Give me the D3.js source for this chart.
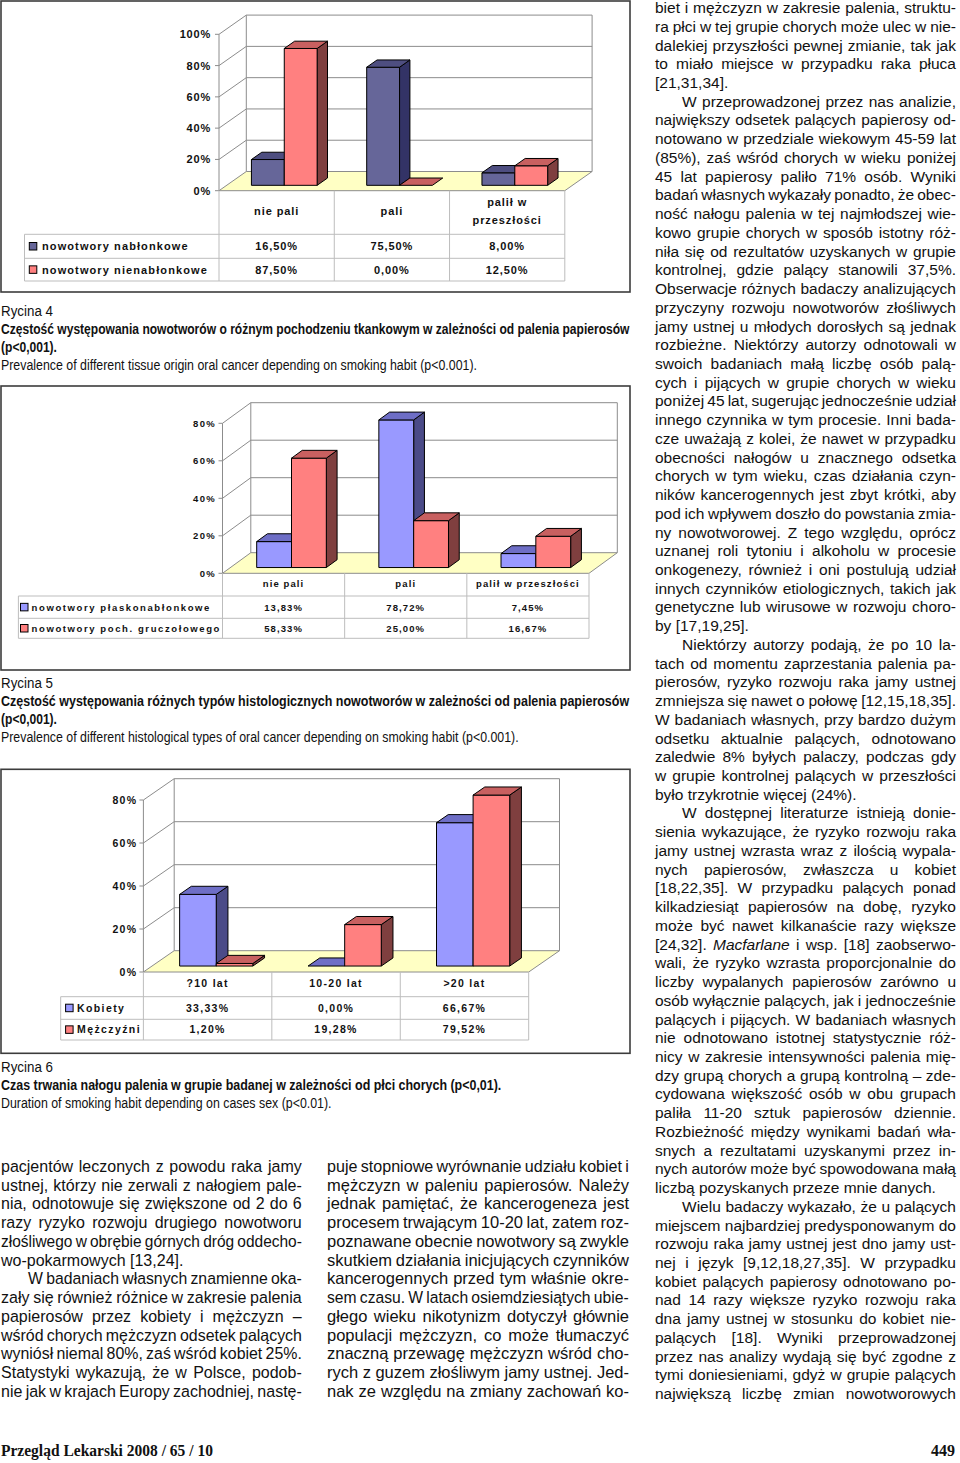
<!DOCTYPE html>
<html><head><meta charset="utf-8">
<script src="https://cdn.jsdelivr.net/npm/d3@7"></script>
<style>body{margin:0;background:#fff}svg{display:block}</style>
</head><body>
<svg id="page" width="960" height="1463"></svg>
<script>
// ---------------- DATA ----------------
const fig4Categories = ["nie pali", "pali", "palił w przeszłości"];
const fig4CategoryLines = [["nie pali"], ["pali"], ["palił w", "przeszłości"]];
const fig4Series = ["nowotwory nabłonkowe", "nowotwory nienabłonkowe"];
const fig4Epithelial = [16.5, 75.5, 8.0];
const fig4NonEpithelial = [87.5, 0.0, 12.5];
const fig4Ticks = [0, 20, 40, 60, 80, 100];

const fig5Categories = ["nie pali", "pali", "palił w przeszłości"];
const fig5CategoryLines = [["nie pali"], ["pali"], ["palił w przeszłości"]];
const fig5Series = ["nowotwory płaskonabłonkowe", "nowotwory poch. gruczołowego"];
const fig5Squamous = [13.83, 78.72, 7.45];
const fig5Glandular = [58.33, 25.00, 16.67];
const fig5Ticks = [0, 20, 40, 60, 80];

const fig6Categories = ["?10 lat", "10-20 lat", ">20 lat"];
const fig6CategoryLines = [["?10 lat"], ["10-20 lat"], [">20 lat"]];
const fig6Series = ["Kobiety", "Mężczyźni"];
const fig6Women = [33.33, 0.00, 66.67];
const fig6Men = [1.20, 19.28, 79.52];
const fig6Ticks = [0, 20, 40, 60, 80];

const captionLines = [
  ["Rycina 4", false, 52],
  ["Częstość występowania nowotworów o różnym pochodzeniu tkankowym w zależności od palenia papierosów", true, 629],
  ["(p<0,001).", true, 56],
  ["Prevalence of different tissue origin oral cancer depending on smoking habit (p<0.001).", false, 476.5],
  ["Rycina 5", false, 52],
  ["Częstość występowania różnych typów histologicznych nowotworów w zależności od palenia papierosów", true, 629],
  ["(p<0,001).", true, 56],
  ["Prevalence of different histological types of oral cancer depending on smoking habit (p<0.001).", false, 518],
  ["Rycina 6", false, 52],
  ["Czas trwania nałogu palenia w grupie badanej w zależności od płci chorych (p<0,01).", true, 501],
  ["Duration of smoking habit depending on cases sex (p<0.01).", false, 331]
];
const captionY = [311, 329, 347, 365, 683, 701, 719, 737, 1067, 1085, 1103];

const leftColumnLines = [
  "pacjentów leczonych z powodu raka jamy",
  "ustnej, którzy nie zerwali z nałogiem pale-",
  "nia, odnotowuje się zwiększone od 2 do 6",
  "razy ryzyko rozwoju drugiego nowotworu",
  "złośliwego w obrębie górnych dróg oddecho-",
  "wo-pokarmowych [13,24].|",
  "¶W badaniach własnych znamienne oka-",
  "zały się również różnice w zakresie palenia",
  "papierosów przez kobiety i mężczyzn –",
  "wśród chorych mężczyzn odsetek palących",
  "wyniósł niemal 80%, zaś wśród kobiet 25%.",
  "Statystyki wykazują, że w Polsce, podob-",
  "nie jak w krajach Europy zachodniej, nastę-"
];
const middleColumnLines = [
  "puje stopniowe wyrównanie udziału kobiet i",
  "mężczyzn w paleniu papierosów. Należy",
  "jednak pamiętać, że kancerogeneza jest",
  "procesem trwającym 10-20 lat, zatem roz-",
  "poznawane obecnie nowotwory są zwykle",
  "skutkiem działania inicjujących czynników",
  "kancerogennych przed tym właśnie okre-",
  "sem czasu. W latach osiemdziesiątych ubie-",
  "głego wieku nikotynizm dotyczył głównie",
  "populacji mężczyzn, co może tłumaczyć",
  "znaczną przewagę mężczyzn wśród cho-",
  "rych z guzem złośliwym jamy ustnej. Jed-",
  "nak ze względu na zmiany zachowań ko-"
];
const rightColumnLines = [
  "biet i mężczyzn w zakresie palenia, struktu-",
  "ra płci w tej grupie chorych może ulec w nie-",
  "dalekiej przyszłości pewnej zmianie, tak jak",
  "to miało miejsce w przypadku raka płuca",
  "[21,31,34].|",
  "¶W przeprowadzonej przez nas analizie,",
  "największy odsetek palących papierosy od-",
  "notowano w przedziale wiekowym 45-59 lat",
  "(85%), zaś wśród chorych w wieku poniżej",
  "45 lat papierosy paliło 71% osób. Wyniki",
  "badań własnych wykazały ponadto, że obec-",
  "ność nałogu palenia w tej najmłodszej wie-",
  "kowo grupie chorych w sposób istotny róż-",
  "niła się od rezultatów uzyskanych w grupie",
  "kontrolnej, gdzie palący stanowili 37,5%.",
  "Obserwacje różnych badaczy analizujących",
  "przyczyny rozwoju nowotworów złośliwych",
  "jamy ustnej u młodych dorosłych są jednak",
  "rozbieżne. Niektórzy autorzy odnotowali w",
  "swoich badaniach małą liczbę osób palą-",
  "cych i pijących w grupie chorych w wieku",
  "poniżej 45 lat, sugerując jednocześnie udział",
  "innego czynnika w tym procesie. Inni bada-",
  "cze uważają z kolei, że nawet w przypadku",
  "obecności nałogów u znacznego odsetka",
  "chorych w tym wieku, czas działania czyn-",
  "ników kancerogennych jest zbyt krótki, aby",
  "pod ich wpływem doszło do powstania zmia-",
  "ny nowotworowej. Z tego względu, oprócz",
  "uznanej roli tytoniu i alkoholu w procesie",
  "onkogenezy, również i oni postulują udział",
  "innych czynników etiologicznych, takich jak",
  "genetyczne lub wirusowe w rozwoju choro-",
  "by [17,19,25].|",
  "¶Niektórzy autorzy podają, że po 10 la-",
  "tach od momentu zaprzestania palenia pa-",
  "pierosów, ryzyko rozwoju raka jamy ustnej",
  "zmniejsza się nawet o połowę [12,15,18,35].",
  "W badaniach własnych, przy bardzo dużym",
  "odsetku aktualnie palących, odnotowano",
  "zaledwie 8% byłych palaczy, podczas gdy",
  "w grupie kontrolnej palących w przeszłości",
  "było trzykrotnie więcej (24%).|",
  "¶W dostępnej literaturze istnieją donie-",
  "sienia wykazujące, że ryzyko rozwoju raka",
  "jamy ustnej wzrasta wraz z ilością wypala-",
  "nych papierosów, zwłaszcza u kobiet",
  "[18,22,35]. W przypadku palących ponad",
  "kilkadziesiąt papierosów na dobę, ryzyko",
  "może być nawet kilkanaście razy większe",
  "[24,32]. _Macfarlane_ i wsp. [18] zaobserwo-",
  "wali, że ryzyko wzrasta proporcjonalnie do",
  "liczby wypalanych papierosów zarówno u",
  "osób wyłącznie palących, jak i jednocześnie",
  "palących i pijących. W badaniach własnych",
  "nie odnotowano istotnej statystycznie róż-",
  "nicy w zakresie intensywności palenia mię-",
  "dzy grupą chorych a grupą kontrolną – zde-",
  "cydowana większość osób w obu grupach",
  "paliła 11-20 sztuk papierosów dziennie.",
  "Rozbieżność między wynikami badań wła-",
  "snych a rezultatami uzyskanymi przez in-",
  "nych autorów może być spowodowana małą",
  "liczbą pozyskanych przeze mnie danych.|",
  "¶Wielu badaczy wykazało, że u palących",
  "miejscem najbardziej predysponowanym do",
  "rozwoju raka jamy ustnej jest dno jamy ust-",
  "nej i język [9,12,18,27,35]. W przypadku",
  "kobiet palących papierosy odnotowano po-",
  "nad 14 razy większe ryzyko rozwoju raka",
  "dna jamy ustnej w stosunku do kobiet nie-",
  "palących [18]. Wyniki przeprowadzonej",
  "przez nas analizy wydają się być zgodne z",
  "tymi doniesieniami, gdyż w grupie palących",
  "największą liczbę zmian nowotworowych"
];
const footerLeft = "Przegląd Lekarski  2008 / 65 / 10";
const footerRight = "449";

// ---------------- DRAWING ----------------
const svg = d3.select("#page");
const SANS = "'Liberation Sans', Arial, Helvetica, sans-serif";
const NARROW = "'Liberation Sans Narrow', 'Arial Narrow', 'Liberation Sans', sans-serif";
const fmtPct = v => d3.format(".2f")(v).replace(".", ",") + "%";

function chart3d(c) {
  const g = svg.append("g");
  g.append("rect").attr("x", c.frame[0]).attr("y", c.frame[1])
    .attr("width", c.frame[2] - c.frame[0]).attr("height", c.frame[3] - c.frame[1])
    .attr("fill", "#fff").attr("stroke", "#3c3c3c").attr("stroke-width", 1.6);

  const y = d3.scaleLinear().domain([0, c.max]).range([c.y0, c.yMax]);
  const x0 = d3.scaleBand().domain(c.categories).range([c.axisX, c.rightX]).padding(0);
  const bw = x0.bandwidth();
  const x1 = d3.scaleBand().domain(c.series).range([0.215 * bw, 0.785 * bw]).padding(0);
  const [dx, dy] = c.depth;
  const line = d3.line();
  const grid = "#8c8c8c";

  g.append("path").attr("d", line([[c.axisX, c.y0], [c.rightX, c.y0], [c.rightX + dx, c.y0 + dy], [c.axisX + dx, c.y0 + dy]]) + "Z")
    .attr("fill", "#ffffc4").attr("stroke", grid).attr("stroke-width", 1);
  c.ticks.forEach(t => {
    if (t === 0) return;
    g.append("line").attr("x1", c.axisX + dx).attr("x2", c.rightX + dx)
      .attr("y1", y(t) + dy).attr("y2", y(t) + dy).attr("stroke", grid);
    g.append("line").attr("x1", c.axisX).attr("x2", c.axisX + dx)
      .attr("y1", y(t)).attr("y2", y(t) + dy).attr("stroke", grid);
  });
  g.append("line").attr("x1", c.axisX + dx).attr("x2", c.axisX + dx).attr("y1", c.y0 + dy).attr("y2", y(c.max) + dy).attr("stroke", grid);
  g.append("line").attr("x1", c.rightX + dx).attr("x2", c.rightX + dx).attr("y1", c.y0 + dy).attr("y2", y(c.max) + dy).attr("stroke", grid);
  g.append("line").attr("x1", c.axisX).attr("x2", c.axisX).attr("y1", c.y0).attr("y2", y(c.max)).attr("stroke", grid);
  c.ticks.forEach(t => {
    g.append("line").attr("x1", c.axisX - 4).attr("x2", c.axisX).attr("y1", y(t)).attr("y2", y(t)).attr("stroke", grid);
    g.append("text").attr("x", c.tickEnd).attr("y", y(t)).attr("dy", "0.36em")
      .attr("text-anchor", "end").attr("font-family", SANS).attr("font-weight", "bold")
      .attr("font-size", c.tickSize).attr("letter-spacing", c.tickLs).attr("fill", "#111")
      .text(t + "%");
  });

  const f = 0.28, bd = 0.38;
  const bdx = bd * dx, bdy = bd * dy;
  c.categories.forEach((cat, i) => {
    c.series.forEach((s, j) => {
      const v = c.values[j][i];
      const col = c.colors[j];
      const xa = x0(cat) + x1(s) + f * dx;
      const xb = xa + x1.bandwidth();
      const yb = c.y0 + f * dy;
      const yt = y(v) + f * dy;
      const bg = g.append("g").attr("stroke", "#000").attr("stroke-width", 1).attr("stroke-linejoin", "round");
      if (yb - yt > 0.5) {
        bg.append("path").attr("d", line([[xb, yt], [xb + bdx, yt + bdy], [xb + bdx, yb + bdy], [xb, yb]]) + "Z").attr("fill", col.side);
        bg.append("rect").attr("x", xa).attr("y", yt).attr("width", xb - xa).attr("height", yb - yt).attr("fill", col.front);
      }
      bg.append("path").attr("d", line([[xa, yt], [xa + bdx, yt + bdy], [xb + bdx, yt + bdy], [xb, yt]]) + "Z").attr("fill", col.top);
    });
  });

  const tc = "#bdbdbd";
  const tb = c.rowBottoms[c.rowBottoms.length - 1];
  const bounds = [c.axisX].concat(c.categories.map(k => x0(k) + bw));
  bounds.forEach(bx => {
    g.append("line").attr("x1", bx).attr("x2", bx).attr("y1", c.y0).attr("y2", tb).attr("stroke", tc);
  });
  g.append("line").attr("x1", c.legendLeft).attr("x2", c.legendLeft).attr("y1", c.catBottom).attr("y2", tb).attr("stroke", tc);
  [c.catBottom].concat(c.rowBottoms).forEach(ry => {
    g.append("line").attr("x1", c.legendLeft).attr("x2", c.rightX).attr("y1", ry).attr("y2", ry).attr("stroke", tc);
  });
  const txt = (x, yy, s, anchor, ls) => g.append("text").attr("x", x).attr("y", yy).attr("dy", "0.36em")
    .attr("text-anchor", anchor).attr("font-family", SANS).attr("font-weight", "bold")
    .attr("font-size", c.labelSize).attr("letter-spacing", ls).attr("fill", "#111").text(s);
  const catMid = (c.y0 + c.catBottom) / 2 - 1;
  c.categories.forEach((cat, i) => {
    const lines = c.catLines[i];
    lines.forEach((ln, k) => {
      txt(x0(cat) + bw / 2, catMid + (k - (lines.length - 1) / 2) * 18, ln, "middle", c.labelLs);
    });
  });
  const rowTops = [c.catBottom].concat(c.rowBottoms);
  c.series.forEach((s, j) => {
    const mid = (rowTops[j] + rowTops[j + 1]) / 2;
    g.append("rect").attr("x", c.sqX).attr("y", mid - 3.8).attr("width", 7.5).attr("height", 7.5)
      .attr("fill", c.colors[j].front).attr("stroke", "#000").attr("stroke-width", 1);
    txt(c.txtX, mid, s, "start", c.legendLs);
    c.categories.forEach((cat, i) => {
      txt(x0(cat) + bw / 2, mid, fmtPct(c.values[j][i]), "middle", c.labelLs);
    });
  });
}

const red = { front: "#ff8080", top: "#c86060", side: "#7f3f3f" };
chart3d({
  frame: [1, 1, 630, 292], axisX: 219, y0: 190.7, yMax: 34.3, max: 100, ticks: fig4Ticks,
  depth: [27.3, -19.2], rightX: 564.8, categories: fig4Categories, catLines: fig4CategoryLines,
  series: fig4Series, values: [fig4Epithelial, fig4NonEpithelial],
  colors: [{ front: "#666699", top: "#4e4e80", side: "#333366" }, red],
  catBottom: 234.3, rowBottoms: [258.3, 281], legendLeft: 24.5, sqX: 29.3, txtX: 42,
  tickEnd: 211, tickSize: 11, tickLs: 0.8, labelSize: 11, labelLs: 0.9, legendLs: 1.1
});
chart3d({
  frame: [1, 386, 630, 670], axisX: 222.5, y0: 573.3, yMax: 423.3, max: 80, ticks: fig5Ticks,
  depth: [28.3, -20.6], rightX: 589, categories: fig5Categories, catLines: fig5CategoryLines,
  series: fig5Series, values: [fig5Squamous, fig5Glandular],
  colors: [{ front: "#9999ff", top: "#6e6ec6", side: "#4b4b88" }, red],
  catBottom: 596, rowBottoms: [618.3, 638.3], legendLeft: 18.4, sqX: 20.5, txtX: 31.6,
  tickEnd: 216, tickSize: 9.5, tickLs: 1.3, labelSize: 9.5, labelLs: 1.1, legendLs: 1.6
});
chart3d({
  frame: [1, 769.3, 630, 1053.3], axisX: 143.4, y0: 972, yMax: 800, max: 80, ticks: fig6Ticks,
  depth: [30.8, -21.3], rightX: 528.7, categories: fig6Categories, catLines: fig6CategoryLines,
  series: fig6Series, values: [fig6Women, fig6Men],
  colors: [{ front: "#9999ff", top: "#6e6ec6", side: "#4b4b88" }, red],
  catBottom: 996.7, rowBottoms: [1019.3, 1040], legendLeft: 60.7, sqX: 65.6, txtX: 77,
  tickEnd: 137.3, tickSize: 10.5, tickLs: 1.3, labelSize: 10.5, labelLs: 1.3, legendLs: 1.4
});

// captions: condensed via horizontal scale so the box matches the printed width
captionLines.forEach(([t, bold, w], i) => {
  const g = svg.append("g");
  const el = g.append("text").attr("x", 0).attr("y", 0).attr("dy", "0.36em")
    .attr("font-family", NARROW).attr("font-size", 14.5).attr("font-weight", bold ? "bold" : "normal")
    .attr("fill", "#111").text(t);
  const nat = el.node().getComputedTextLength();
  g.attr("transform", `translate(1,${captionY[i]}) scale(${w / nat},1)`);
});

// body text columns: condensed (if needed) and justified with word spacing
function drawColumn(col) {
  const g = svg.append("g").attr("font-family", col.font).attr("font-size", col.size).attr("fill", "#111");
  const items = col.lines.map((raw, i) => {
    let t = raw, indent = 0, last = false;
    if (t.startsWith("¶")) { t = t.slice(1); indent = col.indent; }
    if (t.endsWith("|")) { t = t.slice(0, -1); last = true; }
    const lg = g.append("g");
    const el = lg.append("text").attr("x", 0).attr("y", 0).attr("dy", "0.36em");
    t.split("_").forEach((part, k) => {
      if (!part) return;
      const sp = el.append("tspan").text(part);
      if (k % 2 === 1) sp.attr("font-style", "italic");
    });
    const w = el.node().getComputedTextLength();
    return { lg, el, t: t.replace(/_/g, ""), indent, last, w, target: col.width - indent, y: col.y + i * col.lh };
  });
  const ratios = items.filter(d => !d.last).map(d => d.target / d.w).sort(d3.ascending);
  const r = Math.min(col.maxScale, d3.quantile(ratios, col.q));
  items.forEach(d => {
    let s = r;
    if (!d.last) {
      const n = (d.t.match(/ /g) || []).length;
      if (n > 0) {
        let ws = (d.target / s - d.w) / n;
        if (ws < col.minWs) { ws = col.minWs; s = d.target / (d.w + n * ws); }
        d.el.style("word-spacing", ws + "px");
      } else {
        s = d.target / d.w;
      }
    }
    d.lg.attr("transform", `translate(${col.x + d.indent},${d.y}) scale(${s},1)`);
  });
}
drawColumn({ lines: leftColumnLines, x: 1, width: 301, y: 1166, lh: 18.75, font: NARROW, size: 16.5, indent: 27, q: 0.5, maxScale: 1, minWs: -1.2 });
drawColumn({ lines: middleColumnLines, x: 327, width: 302, y: 1166, lh: 18.75, font: NARROW, size: 16.5, indent: 27, q: 0.5, maxScale: 1, minWs: -1.2 });
drawColumn({ lines: rightColumnLines, x: 655, width: 301, y: 7.5, lh: 18.73, font: SANS, size: 15.5, indent: 27, q: 0.1, maxScale: 1, minWs: -3 });

// footer
{
  const g = svg.append("g");
  const el = g.append("text").attr("x", 0).attr("y", 0).attr("dy", "0.36em")
    .attr("font-family", "'Liberation Serif', 'Times New Roman', serif").attr("font-weight", "bold")
    .attr("font-size", 16).attr("fill", "#111").text(footerLeft);
  const nat = el.node().getComputedTextLength();
  g.attr("transform", `translate(1,1450) scale(${212 / nat},1)`);
  svg.append("text").attr("x", 955).attr("y", 1450).attr("dy", "0.36em").attr("text-anchor", "end")
    .attr("font-family", "'Liberation Serif', 'Times New Roman', serif").attr("font-weight", "bold")
    .attr("font-size", 16).attr("fill", "#111").text(footerRight);
}
</script>
</body></html>
